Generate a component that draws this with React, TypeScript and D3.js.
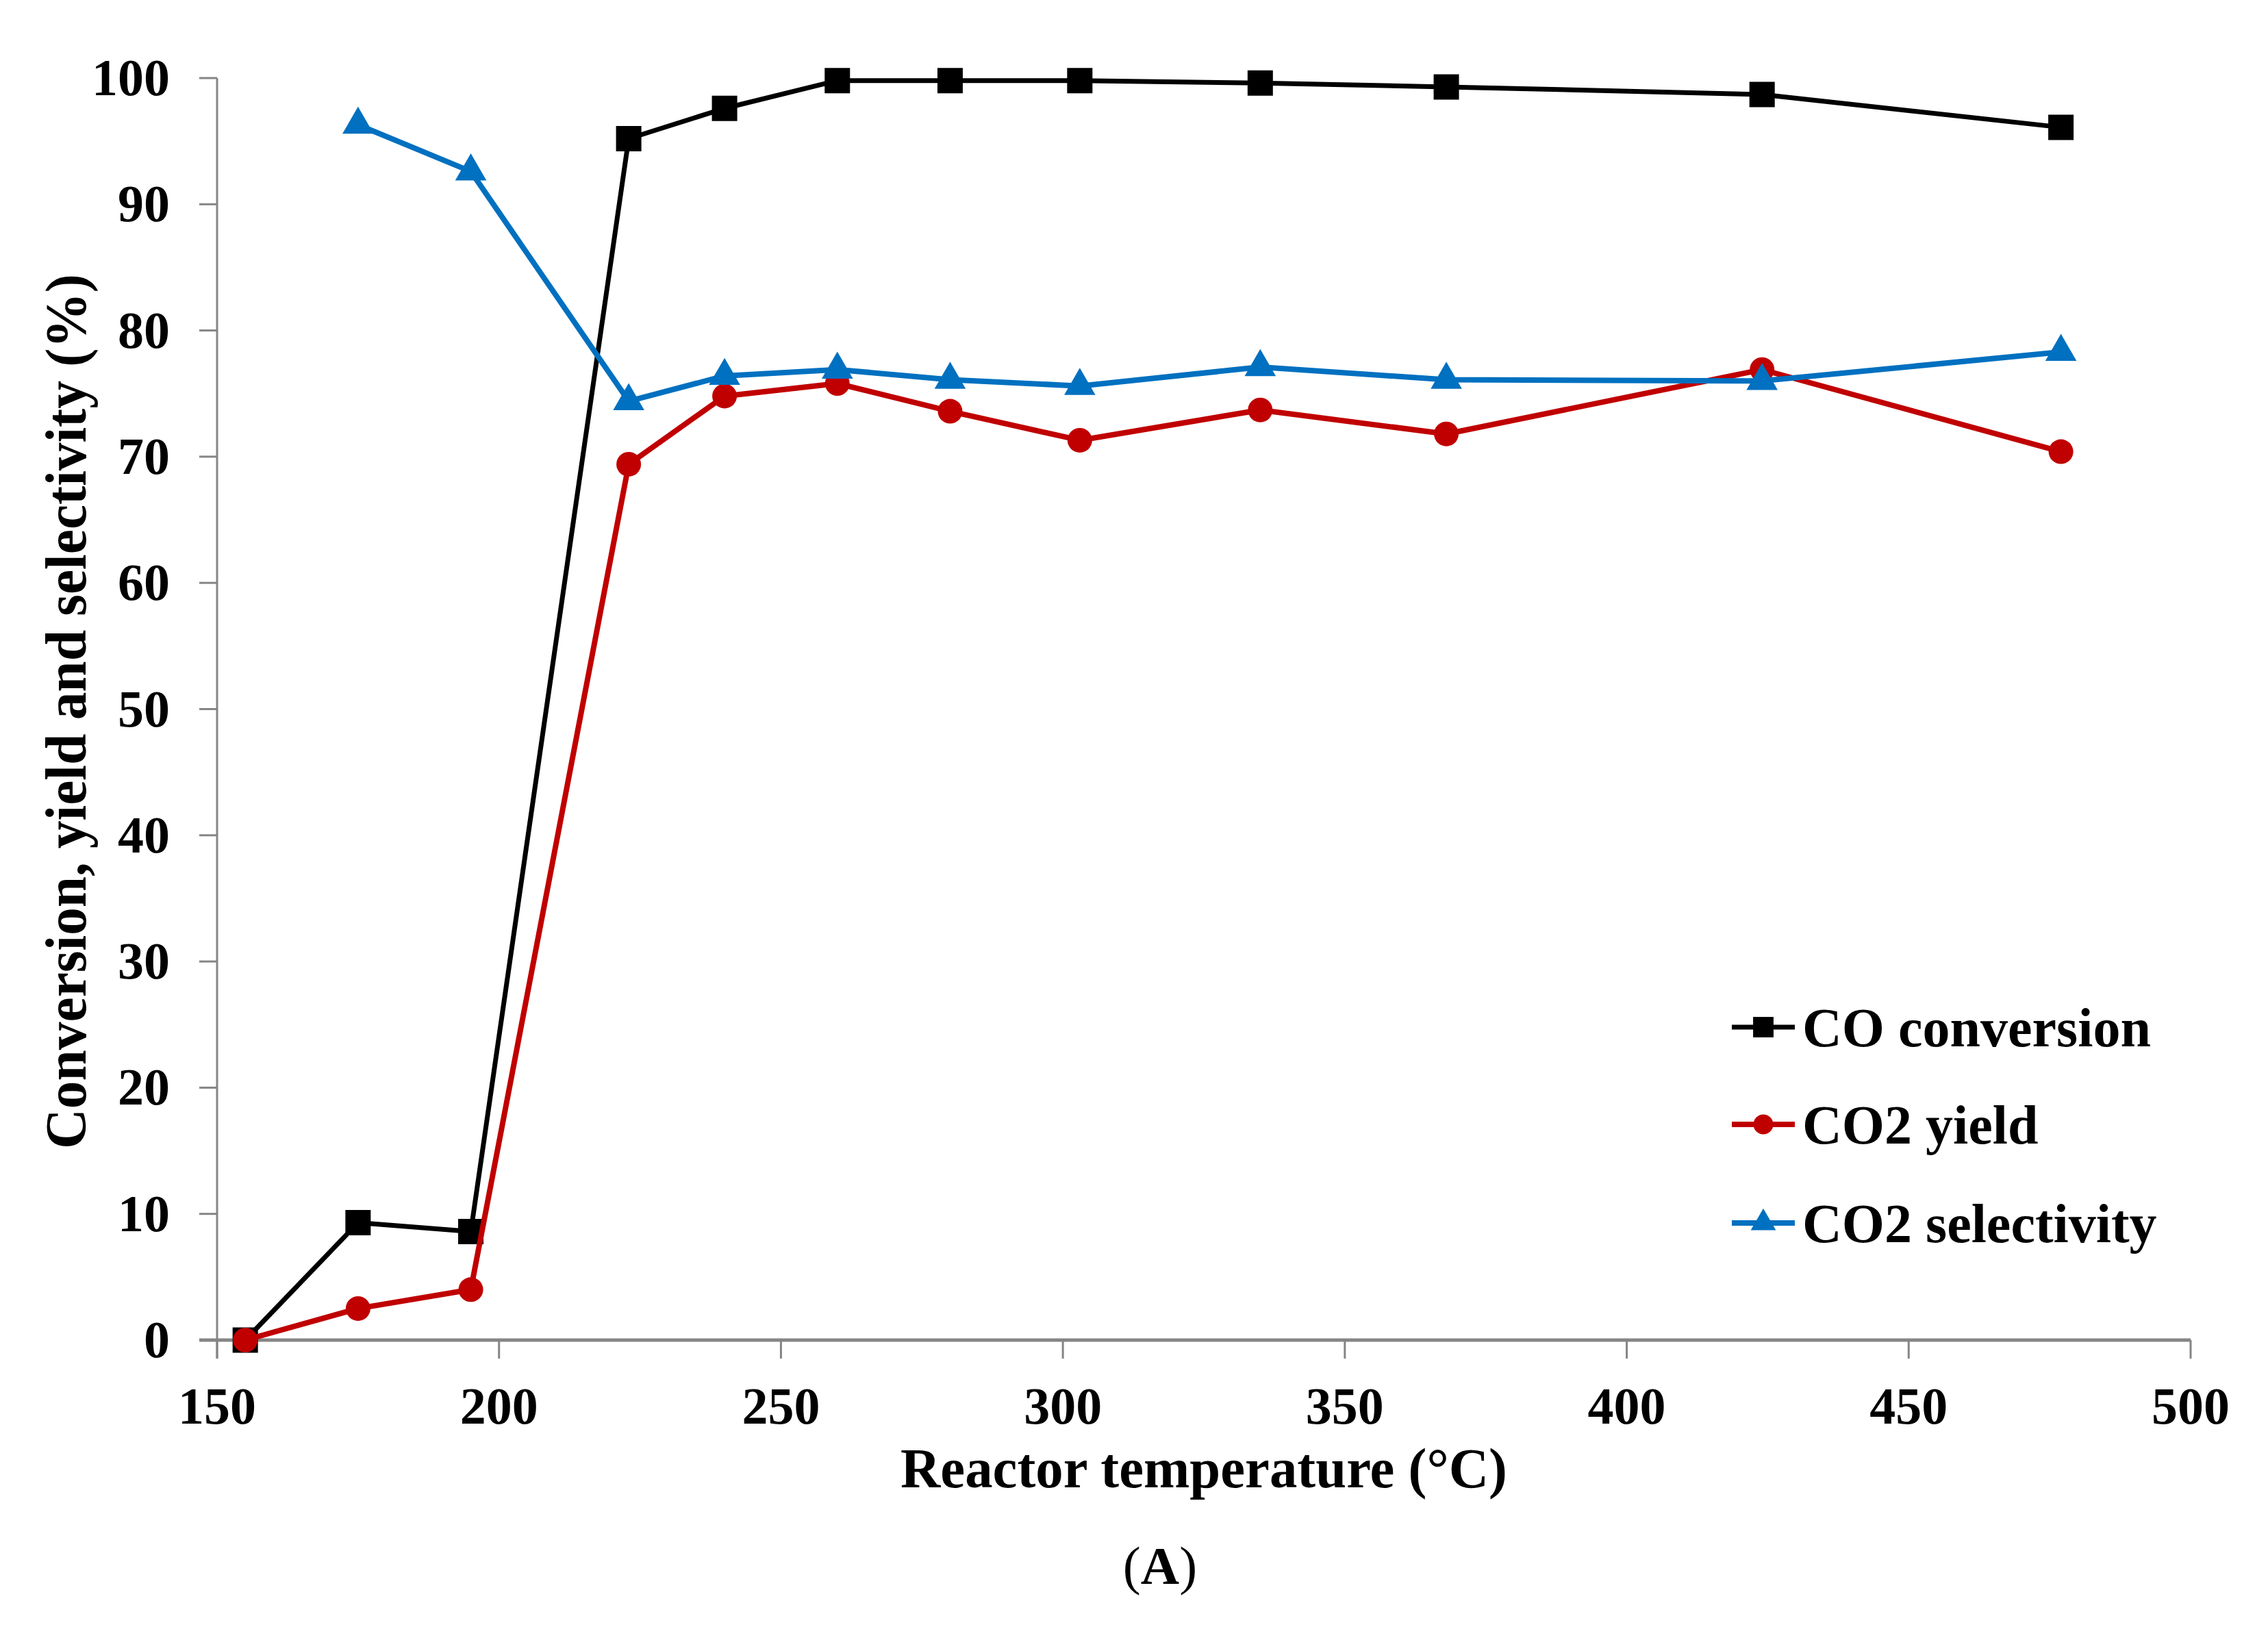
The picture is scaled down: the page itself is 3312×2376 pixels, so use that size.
import React from "react";
import * as d3 from "d3";

const temperatures = [155, 175, 195, 223, 240, 260, 280, 303, 335, 368, 424, 477];
const coConversion = [0, 9.3, 8.6, 95.2, 97.6, 99.8, 99.8, 99.8, 99.6, 99.3, 98.7, 96.1];
const co2Yield = [0, 2.5, 4.0, 69.4, 74.8, 75.8, 73.6, 71.3, 73.7, 71.8, 76.9, 70.4];
const co2Selectivity = [null, 96.3, 92.6, 74.4, 76.4, 76.9, 76.1, 75.6, 77.1, 76.1, 76.0, 78.3];

const xTicks = [150, 200, 250, 300, 350, 400, 450, 500];
const yTicks = [0, 10, 20, 30, 40, 50, 60, 70, 80, 90, 100];

const seriesNames = ["CO conversion", "CO2 yield", "CO2 selectivity"];
const seriesColors = ["#000000", "#C00000", "#0070C0"];
const seriesShapes = ["square", "circle", "triangle"];
const seriesWidths = [7, 8, 8];

const xTitle = "Reactor temperature (°C)";
const yTitle = "Conversion, yield and selectivity (%)";
const panelLabel = "A";

const W = 3312;
const H = 2376;
const FONT = "'Liberation Serif', 'Times New Roman', serif";

function marker(shape: string, size: number) {
  const t =
    shape === "square" ? d3.symbolSquare : shape === "circle" ? d3.symbolCircle : d3.symbolTriangle;
  return d3.symbol().type(t).size(size)() as string;
}

function markerSize(shape: string, scale = 1) {
  if (shape === "square") return 37 * 37 * scale;
  if (shape === "circle") return Math.PI * 18 * 18 * scale;
  return 900 * scale;
}

export default function App() {
  const x = d3.scaleLinear().domain([150, 500]).range([317, 3199]);
  const y = d3.scaleLinear().domain([0, 100]).range([1957, 114]);

  const allSeries = [coConversion, co2Yield, co2Selectivity];

  const line = d3
    .line<[number, number | null]>()
    .defined((d) => d[1] !== null)
    .x((d) => x(d[0]))
    .y((d) => y(d[1] as number));

  const axisColor = "#858585";
  const legendRows = [1500, 1642, 1786];

  return (
    <svg
      width={W}
      height={H}
      viewBox={`0 0 ${W} ${H}`}
      style={{ position: "absolute", left: 0, top: 0, background: "#fff" }}
    >
      <rect x={0} y={0} width={W} height={H} fill="#fff" />
      {/* Y axis */}
      <line x1={x(150)} x2={x(150)} y1={y(100)} y2={y(0) + 27} stroke={axisColor} strokeWidth={3} />
      {yTicks.map((t) => (
        <g key={"yt" + t}>
          <line x1={x(150) - 26} x2={x(150)} y1={y(t)} y2={y(t)} stroke={axisColor} strokeWidth={3} />
          <text
            x={248}
            y={y(t) + 25}
            textAnchor="end"
            fontFamily={FONT}
            fontWeight="bold"
            fontSize={76}
            fill="#000"
          >
            {t}
          </text>
        </g>
      ))}
      {/* X axis */}
      <line x1={x(150) - 26} x2={x(500)} y1={y(0)} y2={y(0)} stroke={axisColor} strokeWidth={5} />
      {xTicks.map((t) => (
        <g key={"xt" + t}>
          <line x1={x(t)} x2={x(t)} y1={y(0)} y2={y(0) + 27} stroke={axisColor} strokeWidth={3} />
          <text
            x={x(t)}
            y={2079}
            textAnchor="middle"
            fontFamily={FONT}
            fontWeight="bold"
            fontSize={76}
            fill="#000"
          >
            {t}
          </text>
        </g>
      ))}
      {/* Axis titles */}
      <text
        x={(x(150) + x(500)) / 2}
        y={2172}
        textAnchor="middle"
        fontFamily={FONT}
        fontWeight="bold"
        fontSize={83}
        textLength={886}
        lengthAdjust="spacingAndGlyphs"
        fill="#000"
      >
        {xTitle}
      </text>
      <text
        transform={`translate(125, 1039) rotate(-90)`}
        textAnchor="middle"
        fontFamily={FONT}
        fontWeight="bold"
        fontSize={84}
        textLength={1278}
        lengthAdjust="spacingAndGlyphs"
        fill="#000"
      >
        {yTitle}
      </text>
      {/* Panel label */}
      <text x={1694} y={2313} textAnchor="middle" fontFamily={FONT} fontSize={78} fill="#000">
        (<tspan fontWeight="bold">{panelLabel}</tspan>)
      </text>

      {/* Series */}
      {allSeries.map((vals, i) => {
        const pts = temperatures.map((t, k) => [t, vals[k]] as [number, number | null]);
        return (
          <g key={"s" + i}>
            <path
              d={line(pts) || ""}
              fill="none"
              stroke={seriesColors[i]}
              strokeWidth={seriesWidths[i]}
              strokeLinejoin="round"
            />
            {pts
              .filter((p) => p[1] !== null)
              .map((p, k) => (
                <path
                  key={k}
                  d={marker(seriesShapes[i], markerSize(seriesShapes[i]))}
                  transform={`translate(${x(p[0])},${y(p[1] as number)})`}
                  fill={seriesColors[i]}
                />
              ))}
          </g>
        );
      })}

      {/* Legend */}
      {seriesNames.map((name, i) => (
        <g key={"lg" + i}>
          <line
            x1={2529}
            x2={2621}
            y1={legendRows[i]}
            y2={legendRows[i]}
            stroke={seriesColors[i]}
            strokeWidth={seriesWidths[i]}
          />
          <path
            d={marker(seriesShapes[i], markerSize(seriesShapes[i], 0.65))}
            transform={`translate(2575,${legendRows[i]})`}
            fill={seriesColors[i]}
          />
          <text
            x={2632}
            y={legendRows[i] + 28}
            fontFamily={FONT}
            fontWeight="bold"
            fontSize={80}
            fill="#000"
          >
            {name}
          </text>
        </g>
      ))}
    </svg>
  );
}
